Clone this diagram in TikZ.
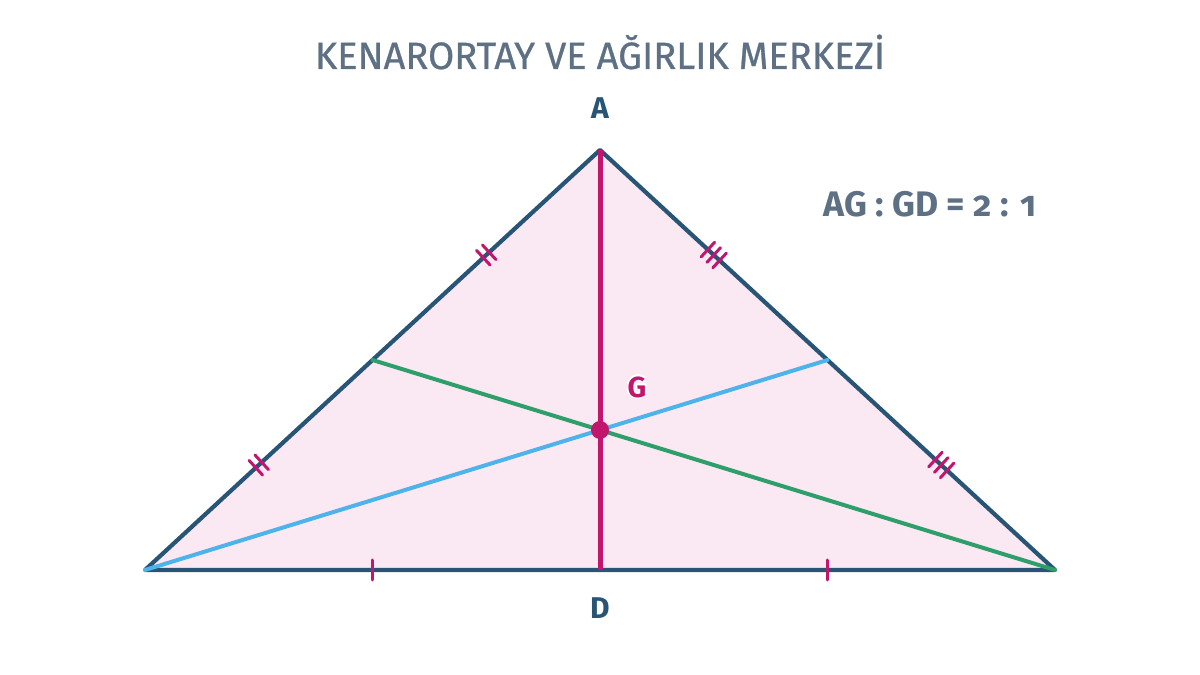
\documentclass[tikz,border=0pt]{standalone}
\usepackage{fontspec}
\setmainfont{Fira Sans}
\newfontfamily\titlefont{Fira Sans}[FakeBold=0.7]
\usepackage{contour}
\contourlength{1.6pt}
\usetikzlibrary{calc,positioning}

\definecolor{sidecol}{HTML}{285576}
\definecolor{fillcol}{HTML}{FAE8F2}
\definecolor{magcol}{HTML}{C2166E}
\definecolor{greencol}{HTML}{2E9E6B}
\definecolor{bluecol}{HTML}{4DB3EA}
\definecolor{titlecol}{HTML}{5E7083}

\begin{document}
\begin{tikzpicture}[
        x=1pt, y=1pt,
        side/.style={draw=sidecol, line width=4.2pt, line join=round, line cap=round}, % triangle sides
        median/.style={line width=4pt, line cap=round}, % medians
        tick/.style={draw=magcol, line width=3pt, line cap=round}, % equal-length marks
        vlabel/.style={font=\bfseries\fontsize{30}{30}\selectfont, text=sidecol} % vertex labels
    ]
        \useasboundingbox (0,0) rectangle (1200,675);

        % Vertices, midpoints and centroid
        \coordinate (A) at (600,525);
        \coordinate (B) at (145,105);
        \coordinate (C) at (1055,105);
        \coordinate (D) at ($(B)!0.5!(C)$);
        \coordinate (Mab) at ($(A)!0.5!(B)$);
        \coordinate (Mac) at ($(A)!0.5!(C)$);
        \coordinate (G) at ($(A)!2/3!(D)$);

        % Triangle
        \fill[fillcol] (A) -- (B) -- (C) -- cycle;
        \draw[side] (A) -- (B) -- (C) -- cycle;

        % Medians
        \draw[median, draw=greencol] (Mab) -- (C);
        \draw[median, draw=bluecol] (B) -- (Mac);
        \draw[median, draw=magcol, line width=5pt, line cap=butt] (A) -- (D);

        % Equal-length marks
        \foreach \p/\q/\n in {A/Mab/2, Mab/B/2, A/Mac/3, Mac/C/3, B/D/1, D/C/1} {
            \foreach \k in {1,...,\n} {
                \pgfmathsetmacro\off{(\k-(\n+1)/2)*8}
                \coordinate (t) at ($(\p)!0.5!(\q)$);
                \coordinate (t) at ($(t)!\off pt!(\q)$);
                \draw[tick] ($(t)!10pt!90:(\q)$) -- ($(t)!10pt!-90:(\q)$);
            }
        }

        % Centroid
        \fill[magcol] (G) circle (9pt);

        % Labels
        \node (title) at (600,623) [font=\titlefont\fontsize{38}{38}\selectfont, text=titlecol] {KENARORTAY VE AĞIRLIK MERKEZİ};
        \node (lA) [vlabel, above=28pt of A] {A};
        \node (lD) [vlabel, below=24pt of D] {D};
        \node (lG) at (637,287) [font=\bfseries\fontsize{29}{29}\selectfont, text=magcol] {\contour{white}{G}};
        \node (ratio) at (930,471) [font=\bfseries\fontsize{35.5}{35.5}\selectfont, text=titlecol] {AG : GD = \addfontfeature{Numbers=OldStyle}2 : 1};
    \end{tikzpicture}
\end{document}
